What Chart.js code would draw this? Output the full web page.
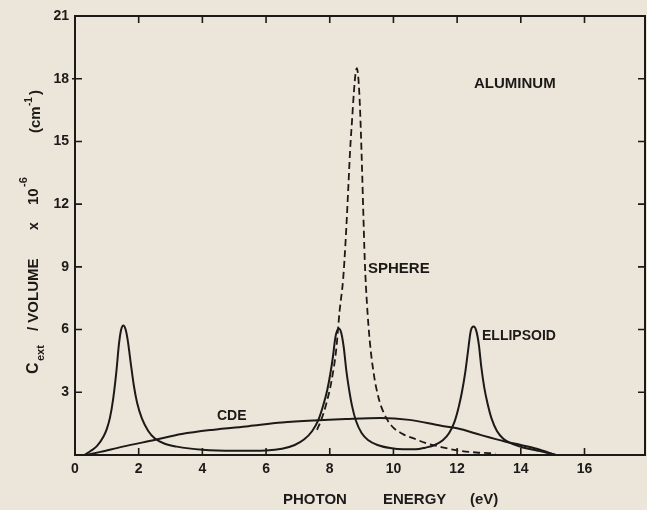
<!DOCTYPE html>
<html>
<head>
<meta charset="utf-8">
<script src="https://cdn.jsdelivr.net/npm/chart.js@4.4.1/dist/chart.umd.min.js"></script>
<style>
  html, body { margin: 0; padding: 0; background: #ece5da; }
  #wrap { width: 647px; height: 510px; }
</style>
</head>
<body>
<div id="wrap"><canvas id="grafico"></canvas></div>
<script>
// valores (energia en eV, Cext/volumen x 1e-6 cm^-1)
const xTicks = [0, 2, 4, 6, 8, 10, 12, 14, 16];
const yTicks = [0, 3, 6, 9, 12, 15, 18, 21];

const ellipsoidX = [0.3, 0.5, 0.7, 0.9, 1.0, 1.1, 1.2, 1.3, 1.38, 1.45, 1.52, 1.59, 1.66, 1.75, 1.85, 1.95, 2.1, 2.3, 2.5, 2.8, 3.2, 4.0, 5.0, 6.0,
    6.5, 6.9, 7.2, 7.45, 7.65, 7.8, 7.92, 8.02, 8.1, 8.18, 8.28, 8.36, 8.44, 8.52, 8.6, 8.7, 8.82, 9.0, 9.2, 9.5, 9.9, 10.3, 10.7,
    11.0, 11.3, 11.55, 11.75, 11.92, 12.05, 12.15, 12.25, 12.34, 12.43, 12.52, 12.6, 12.68, 12.76, 12.85, 12.95, 13.08, 13.25, 13.45, 13.75, 14.1, 14.5, 14.85, 15.1];
const ellipsoidY = [0, 0.2, 0.45, 0.9, 1.25, 1.8, 2.7, 4.0, 5.3, 6.0, 6.2, 6.0, 5.45, 4.4, 3.3, 2.5, 1.75, 1.15, 0.8, 0.55, 0.4, 0.25, 0.2, 0.22,
    0.3, 0.48, 0.75, 1.15, 1.7, 2.4, 3.1, 3.9, 4.7, 5.65, 6.05, 5.85, 5.15, 4.05, 3.2, 2.35, 1.65, 1.05, 0.72, 0.48, 0.33, 0.27, 0.27,
    0.35, 0.48, 0.7, 1.05, 1.6, 2.3, 3.0, 3.9, 4.95, 5.95, 6.15, 5.95, 5.3, 4.2, 3.25, 2.5, 1.75, 1.15, 0.78, 0.52, 0.35, 0.22, 0.1, 0];

const sphereX = [7.6, 7.75, 7.9, 8.05, 8.2, 8.31, 8.42, 8.5, 8.58, 8.64, 8.7, 8.76, 8.81, 8.85, 8.9, 8.95, 9.0, 9.05, 9.1, 9.17, 9.26, 9.38, 9.53, 9.7, 9.94, 10.3, 10.66, 11.0, 11.5, 12.0, 12.6, 13.2];
const sphereY = [1.2, 1.75, 2.5, 3.5, 5.0, 6.9, 8.4, 10.3, 12.7, 14.6, 16.0, 17.4, 18.25, 18.5, 18.0, 16.6, 14.4, 11.8, 9.3, 7.2, 5.4, 3.9, 2.75, 2.0, 1.4, 1.0, 0.78, 0.58, 0.38, 0.22, 0.12, 0.08];

const cdeX = [0.35, 0.8, 1.5, 2.5, 3.35, 4.3, 5.45, 6.5, 7.5, 8.5, 9.6, 10.5, 11.5, 12.0, 12.76, 13.5, 14.0, 14.5, 15.1];
const cdeY = [0, 0.15, 0.4, 0.72, 1.0, 1.2, 1.38, 1.55, 1.65, 1.72, 1.77, 1.68, 1.4, 1.28, 0.95, 0.65, 0.48, 0.3, 0];

const tinta = '#1c1a18';
const fuente = '"Liberation Sans", Arial, sans-serif';

function puntos(xs, ys) {
    return xs.map((x, i) => ({ x: x, y: ys[i] }));
}

// fondo de papel
const fondo = {
    id: 'fondo',
    beforeDraw(chart) {
        const c = chart.ctx;
        c.save();
        c.fillStyle = '#ece5da';
        c.fillRect(0, 0, chart.width, chart.height);
        c.restore();
    }
};

// marco, marcas hacia adentro y textos
const marco = {
    id: 'marco',
    afterDraw(chart) {
        const c = chart.ctx;
        const a = chart.chartArea;
        const sx = chart.scales.x, sy = chart.scales.y;
        c.save();
        c.strokeStyle = tinta;
        c.lineWidth = 2;
        c.strokeRect(a.left, a.top, a.right - a.left, a.bottom - a.top);

        c.lineWidth = 1.6;
        c.beginPath();
        xTicks.forEach(v => {
            if (v === 0) return;
            const px = sx.getPixelForValue(v);
            c.moveTo(px, a.bottom); c.lineTo(px, a.bottom - 7);
            c.moveTo(px, a.top); c.lineTo(px, a.top + 7);
        });
        yTicks.forEach(v => {
            if (v === 0 || v === 21) return;
            const py = sy.getPixelForValue(v);
            c.moveTo(a.left - (v === 18 ? 3 : 0), py); c.lineTo(a.left + 7, py);
            c.moveTo(a.right, py); c.lineTo(a.right - 7, py);
        });
        c.stroke();

        c.fillStyle = tinta;
        c.textBaseline = 'alphabetic';
        c.textAlign = 'left';
        c.font = 'bold 15px ' + fuente;
        c.fillText('ALUMINUM', 474, 88);
        c.fillText('SPHERE', 368, 273);
        c.font = 'bold 14px ' + fuente;
        c.fillText('ELLIPSOID', 482, 340);
        c.fillText('CDE', 217, 420);

        // titulo eje x
        c.font = 'bold 15px ' + fuente;
        c.fillText('PHOTON', 283, 504);
        c.fillText('ENERGY', 383, 504);
        c.fillText('(eV)', 470, 504);

        // titulo eje y (vertical)
        const piezas = [
            { t: 'C', y: 374, s: 16, b: 38 },
            { t: 'ext', y: 361, s: 11, b: 44 },
            { t: '/ VOLUME', y: 331, s: 15, b: 38 },
            { t: 'x', y: 230, s: 14, b: 38 },
            { t: '10', y: 205, s: 15, b: 38 },
            { t: '-6', y: 187, s: 11, b: 27 },
            { t: '(cm', y: 133, s: 15, b: 40 },
            { t: '-1', y: 106, s: 10, b: 32 },
            { t: ')', y: 95, s: 15, b: 40 }
        ];
        piezas.forEach(p => {
            c.save();
            c.translate(p.b, p.y);
            c.rotate(-Math.PI / 2);
            c.font = 'bold ' + p.s + 'px ' + fuente;
            c.fillText(p.t, 0, 0);
            c.restore();
        });
        c.restore();
    }
};

const ctx = document.getElementById('grafico').getContext('2d');
new Chart(ctx, {
    type: 'line',
    data: {
        datasets: [
            {
                label: 'ELLIPSOID',
                data: puntos(ellipsoidX, ellipsoidY),
                borderColor: tinta,
                borderWidth: 2,
                pointRadius: 0,
                cubicInterpolationMode: 'monotone',
                fill: false
            },
            {
                label: 'SPHERE',
                data: puntos(sphereX, sphereY),
                borderColor: tinta,
                borderWidth: 1.8,
                borderDash: [7, 4],
                pointRadius: 0,
                cubicInterpolationMode: 'monotone',
                fill: false
            },
            {
                label: 'CDE',
                data: puntos(cdeX, cdeY),
                borderColor: tinta,
                borderWidth: 2,
                pointRadius: 0,
                cubicInterpolationMode: 'monotone',
                fill: false
            }
        ]
    },
    options: {
        responsive: true,
        maintainAspectRatio: false,
        animation: false,
        layout: { padding: { top: 16, right: 2, left: 0, bottom: 0 } },
        plugins: {
            legend: { display: false },
            tooltip: { enabled: false }
        },
        scales: {
            x: {
                type: 'linear',
                min: 0,
                max: 17.9,
                grid: { display: false, drawTicks: false },
                border: { display: false },
                ticks: {
                    color: tinta,
                    padding: 6,
                    maxRotation: 0,
                    font: { family: fuente, size: 14, weight: 'bold' }
                },
                afterBuildTicks: s => { s.ticks = xTicks.map(v => ({ value: v })); },
                afterFit: s => { s.height = 55; }
            },
            y: {
                type: 'linear',
                min: 0,
                max: 21,
                grid: { display: false, drawTicks: false },
                border: { display: false },
                ticks: {
                    color: tinta,
                    padding: 6,
                    font: { family: fuente, size: 14, weight: 'bold' },
                    callback: v => (v === 0 ? '' : v)
                },
                afterBuildTicks: s => { s.ticks = yTicks.map(v => ({ value: v })); },
                afterFit: s => { s.width = 75; }
            }
        }
    },
    plugins: [fondo, marco]
});
</script>
</body>
</html>
